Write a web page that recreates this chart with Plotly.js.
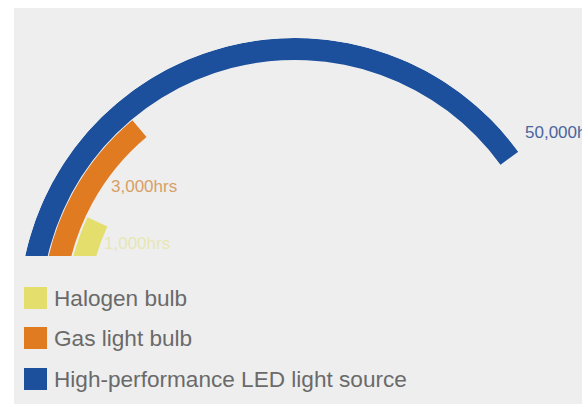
<!DOCTYPE html>
<html>
<head>
<meta charset="utf-8">
<script src="https://cdn.plot.ly/plotly-3.0.1.min.js"></script>
<style>
  html, body { margin: 0; padding: 0; background: #ffffff; }
  #chart { width: 582px; height: 404px; }
</style>
</head>
<body>
<div id="chart"></div>
<script>
// ---- data ----
const categories = ['Halogen bulb', 'Gas light bulb', 'High-performance LED light source'];
const lifeHours = [1000, 3000, 50000];
const lifeLabels = ['1,000hrs', '3,000hrs', '50,000hrs'];
// visible arc length of each ring, in degrees (decorative, not proportional to hours)
const arcSweepDeg = [13, 38, 132];
const colors = ['#e4df6c', '#e07b22', '#1c509c'];
const labelColors = ['#e8e6b4', '#d6a066', '#4a64a0'];

// ---- styling ----
// ring bands in radial-axis units (outer edge = 276)
const ringInner = [207, 231, 254];
const ringOuter = [229, 253, 276];
const visibleStartDeg = 168;   // screen angle where the visible arcs begin
const hiddenDeg = 5;           // part of each arc tucked under the flat baseline
const W = 582, H = 404;
const px = v => v / W;
const py = v => 1 - v / H;
const BG = '#eeeeee';

const traces = categories.map((name, i) => ({
  type: 'barpolar',
  name: name,
  r: [ringOuter[i] - ringInner[i]],
  base: [ringInner[i]],
  theta: [(arcSweepDeg[i] + hiddenDeg) / 2],
  width: [arcSweepDeg[i] + hiddenDeg],
  marker: { color: colors[i], line: { width: 0 } },
  customdata: [lifeHours[i]],
  hovertemplate: name + ': %{customdata} hrs<extra></extra>',
  showlegend: false
}));

// label positions (pixels) next to the arc ends
const labelPos = [[102, 243], [109, 186], [523, 132]];
const annotations = lifeLabels.map((t, i) => ({
  text: t, xref: 'paper', yref: 'paper',
  x: px(labelPos[i][0]), y: py(labelPos[i][1]),
  xanchor: 'left', yanchor: 'middle', showarrow: false,
  font: { family: 'Liberation Sans, Arial, sans-serif', size: 17, color: labelColors[i] }
}));

const shapes = [
  { // grey card behind the chart
    type: 'rect', xref: 'paper', yref: 'paper', layer: 'below',
    x0: px(14), x1: 1, y0: 0, y1: py(8),
    fillcolor: BG, line: { width: 0 }
  },
  { // flat baseline: hides the arc ends below it
    type: 'rect', xref: 'paper', yref: 'paper', layer: 'above',
    x0: px(14), x1: px(150), y0: py(294), y1: py(256),
    fillcolor: BG, line: { width: 0 }
  }
];

// manual legend
const legendY = [298, 338, 379];
categories.forEach((name, i) => {
  shapes.push({
    type: 'rect', xref: 'paper', yref: 'paper', layer: 'above',
    x0: px(24), x1: px(47), y0: py(legendY[i] + 11), y1: py(legendY[i] - 11),
    fillcolor: colors[i], line: { width: 0 }
  });
  annotations.push({
    text: name, xref: 'paper', yref: 'paper',
    x: px(52), y: py(legendY[i]), xanchor: 'left', yanchor: 'middle', showarrow: false,
    font: { family: 'Liberation Sans, Arial, sans-serif', size: 22.6, color: '#6a6a6a' }
  });
});

const layout = {
  width: W, height: H,
  margin: { l: 0, r: 0, t: 0, b: 0 },
  paper_bgcolor: '#ffffff',
  showlegend: false,
  polar: {
    domain: { x: [px(19), px(571)], y: [1 - 314 / H, 1 - 38 / H] },
    sector: [0, 180],
    bgcolor: 'rgba(0,0,0,0)',
    hole: 0,
    bargap: 0,
    radialaxis: { visible: false, range: [0, 276] },
    angularaxis: { visible: false, rotation: visibleStartDeg + hiddenDeg, direction: 'clockwise', thetaunit: 'degrees' }
  },
  shapes: shapes,
  annotations: annotations
};

Plotly.newPlot('chart', traces, layout, { displayModeBar: false, staticPlot: true });
</script>
</body>
</html>
